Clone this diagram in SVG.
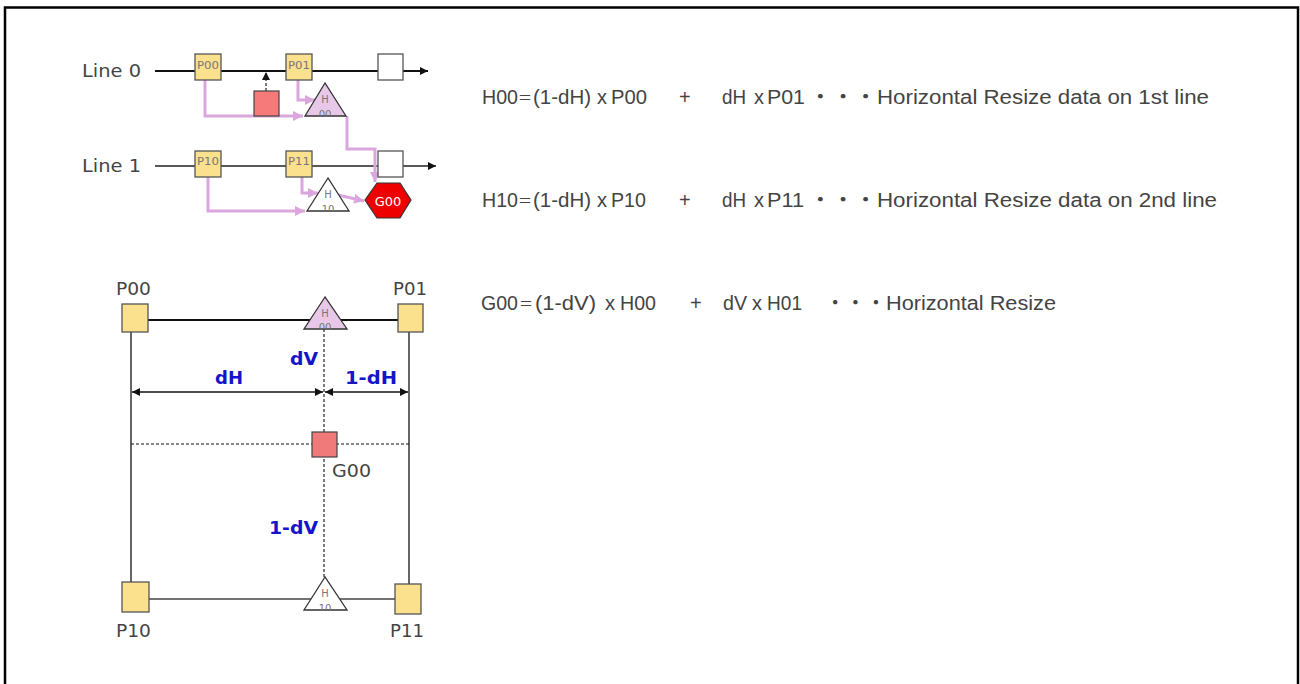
<svg xmlns="http://www.w3.org/2000/svg" width="1300" height="684" viewBox="0 0 1300 684">
<style>
.lbl{font-family:"DejaVu Sans",sans-serif;fill:#444}
.eq{font-family:"Liberation Sans","Noto Sans CJK JP",sans-serif;font-size:20px;fill:#444}
.cj{font-family:"Noto Sans CJK JP",sans-serif}
.blue{font-family:"DejaVu Sans",sans-serif;font-weight:bold;font-size:18px;fill:#1515c8}
.sm{font-family:"DejaVu Sans",sans-serif;font-size:10px;fill:#777;text-anchor:middle}
.box{fill:#fbe08e;stroke:#555;stroke-width:1.3}
.wbox{fill:#fff;stroke:#555;stroke-width:1.3}
.pink{fill:none;stroke:#dba6dd;stroke-width:3}
.dash{fill:none;stroke:#111;stroke-width:1.1;stroke-dasharray:3,2}
</style>
<defs>
<marker id="ab" viewBox="0 0 10 10" refX="10" refY="5" markerWidth="10" markerHeight="8" markerUnits="userSpaceOnUse" orient="auto"><path d="M0,0 L10,5 L0,10 z" fill="#111"/></marker>
<marker id="ap" viewBox="0 0 10 10" refX="10" refY="5" markerWidth="10" markerHeight="10" markerUnits="userSpaceOnUse" orient="auto"><path d="M0,0 L10,5 L0,10 z" fill="#dba6dd"/></marker>
<marker id="ad" viewBox="0 0 10 10" refX="10" refY="5" markerWidth="9" markerHeight="8" markerUnits="userSpaceOnUse" orient="auto-start-reverse"><path d="M0,0 L10,5 L0,10 z" fill="#111"/></marker>
<clipPath id="c1"><polygon points="325,83 305,116 346,116"/></clipPath>
<clipPath id="c2"><polygon points="328,178 307,211 349,211"/></clipPath>
<clipPath id="c3"><polygon points="325,297 304,329 347,329"/></clipPath>
<clipPath id="c4"><polygon points="325,577 304,610 347,610"/></clipPath>
</defs>
<rect x="5" y="7.5" width="1293" height="700" fill="#fff" stroke="#000" stroke-width="2.5"/>

<g id="connectors">
<line x1="155" y1="71" x2="428" y2="71" stroke="#111" stroke-width="2" marker-end="url(#ab)"/>
<line x1="155" y1="166" x2="436" y2="166" stroke="#222" stroke-width="1.5" marker-end="url(#ab)"/>
<line x1="266" y1="91" x2="266" y2="72" class="dash" stroke-width="1.3" marker-end="url(#ab)"/>
<path class="pink" d="M205,80 V116 H303" marker-end="url(#ap)"/>
<path class="pink" d="M298,80 V100 H315" marker-end="url(#ap)"/>
<path class="pink" d="M347,116 V149 H375 V182" marker-end="url(#ap)"/>
<path class="pink" d="M208,177 V211 H305" marker-end="url(#ap)"/>
<path class="pink" d="M302,177 V193 H318" marker-end="url(#ap)"/>
<path class="pink" d="M338,195 L364,201" marker-end="url(#ap)"/>
<line x1="131" y1="320" x2="409" y2="320" stroke="#111" stroke-width="2"/>
<line x1="131" y1="320" x2="131" y2="582" stroke="#333" stroke-width="1.5"/>
<line x1="409" y1="320" x2="409" y2="585" stroke="#333" stroke-width="1.5"/>
<line x1="148" y1="599" x2="396" y2="599" stroke="#444" stroke-width="1.5"/>
<line x1="324" y1="329" x2="324" y2="578" class="dash"/>
<line x1="131" y1="444" x2="409" y2="444" class="dash"/>
<line x1="132" y1="392" x2="323" y2="392" stroke="#111" stroke-width="1.5" marker-start="url(#ad)" marker-end="url(#ad)"/>
<line x1="325" y1="392" x2="408" y2="392" stroke="#111" stroke-width="1.5" marker-start="url(#ad)" marker-end="url(#ad)"/>
</g>

<text class="lbl" x="82" y="77" font-size="18" textLength="59" lengthAdjust="spacingAndGlyphs">Line 0</text>
<text class="lbl" x="82" y="172" font-size="18" textLength="59" lengthAdjust="spacingAndGlyphs">Line 1</text>

<g id="P00a"><rect class="box" x="195" y="54" width="26" height="26"/><text class="sm" x="208" y="68.5" textLength="22" lengthAdjust="spacingAndGlyphs" fill="#666">P00</text></g>
<g id="P01a"><rect class="box" x="286" y="54" width="26" height="26"/><text class="sm" x="299" y="68.5" textLength="22" lengthAdjust="spacingAndGlyphs">P01</text></g>
<g id="W0"><rect class="wbox" x="378" y="54" width="25" height="26"/></g>
<g id="R0"><rect x="254" y="91" width="25" height="25" fill="#f77a7a" stroke="#444" stroke-width="1.2"/></g>
<g id="H00a"><polygon points="325,83 305,116 346,116" fill="#e8c8e8" stroke="#333" stroke-width="1.3"/><g clip-path="url(#c1)"><text class="sm" x="325" y="103">H</text><text class="sm" x="325" y="118">00</text></g></g>

<g id="P10a"><rect class="box" x="195" y="151" width="26" height="26"/><text class="sm" x="208" y="165" textLength="22" lengthAdjust="spacingAndGlyphs">P10</text></g>
<g id="P11a"><rect class="box" x="286" y="151" width="26" height="26"/><text class="sm" x="299" y="165" textLength="22" lengthAdjust="spacingAndGlyphs">P11</text></g>
<g id="W1"><rect class="wbox" x="378" y="151" width="25" height="26"/></g>
<g id="H10a"><polygon points="328,178 307,211 349,211" fill="#fff" stroke="#333" stroke-width="1.3"/><g clip-path="url(#c2)"><text class="sm" x="328" y="198">H</text><text class="sm" x="328" y="213">10</text></g></g>
<g id="G00a"><polygon points="365,200 377,183 400,183 411,200 400,218 377,218" fill="#ee0000" stroke="#333" stroke-width="1.2"/><text x="388" y="205.5" font-family="DejaVu Sans,sans-serif" font-size="13" fill="#fff" text-anchor="middle">G00</text></g>

<g id="eq1" class="eq">
<text x="482" y="104" textLength="36" lengthAdjust="spacingAndGlyphs">H00</text>
<text class="cj" x="518" y="103" font-size="15" textLength="14" lengthAdjust="spacingAndGlyphs">＝</text>
<text x="533" y="104" textLength="58" lengthAdjust="spacingAndGlyphs">(1-dH)</text>
<text x="597" y="104">x</text>
<text x="611" y="104" textLength="36" lengthAdjust="spacingAndGlyphs">P00</text>
<text x="679" y="104">+</text>
<text x="722" y="104" textLength="24" lengthAdjust="spacingAndGlyphs">dH</text>
<text x="754" y="104">x</text>
<text x="767" y="104" textLength="38" lengthAdjust="spacingAndGlyphs">P01</text>
<text class="cj" x="809" y="104" textLength="68" lengthAdjust="spacingAndGlyphs">・・・</text>
<text x="877" y="104" textLength="332" lengthAdjust="spacingAndGlyphs">Horizontal Resize data on 1st line</text>
</g>
<g id="eq2" class="eq">
<text x="482" y="207" textLength="36" lengthAdjust="spacingAndGlyphs">H10</text>
<text class="cj" x="518" y="206" font-size="15" textLength="14" lengthAdjust="spacingAndGlyphs">＝</text>
<text x="533" y="207" textLength="58" lengthAdjust="spacingAndGlyphs">(1-dH)</text>
<text x="597" y="207">x</text>
<text x="611" y="207" textLength="35" lengthAdjust="spacingAndGlyphs">P10</text>
<text x="679" y="207">+</text>
<text x="722" y="207" textLength="24" lengthAdjust="spacingAndGlyphs">dH</text>
<text x="754" y="207">x</text>
<text x="767" y="207" textLength="37" lengthAdjust="spacingAndGlyphs">P11</text>
<text class="cj" x="809" y="207" textLength="68" lengthAdjust="spacingAndGlyphs">・・・</text>
<text x="877" y="207" textLength="340" lengthAdjust="spacingAndGlyphs">Horizontal Resize data on 2nd line</text>
</g>
<g id="eq3" class="eq">
<text x="481" y="310" textLength="37" lengthAdjust="spacingAndGlyphs">G00</text>
<text class="cj" x="519" y="309" font-size="15" textLength="14" lengthAdjust="spacingAndGlyphs">＝</text>
<text x="535" y="310" textLength="61" lengthAdjust="spacingAndGlyphs">(1-dV)</text>
<text x="605" y="310">x</text>
<text x="620" y="310" textLength="36" lengthAdjust="spacingAndGlyphs">H00</text>
<text x="690" y="310">+</text>
<text x="723" y="310" textLength="24" lengthAdjust="spacingAndGlyphs">dV</text>
<text x="752" y="310">x</text>
<text x="767" y="310" textLength="35" lengthAdjust="spacingAndGlyphs">H01</text>
<text class="cj" x="825" y="310" textLength="61" lengthAdjust="spacingAndGlyphs">・・・</text>
<text x="886" y="310" textLength="170" lengthAdjust="spacingAndGlyphs">Horizontal Resize</text>
</g>

<g id="P00b"><rect class="box" x="122" y="304" width="26" height="28"/><text class="lbl" x="116" y="295" font-size="18" textLength="35" lengthAdjust="spacingAndGlyphs">P00</text></g>
<g id="P01b"><rect class="box" x="398" y="304" width="25" height="28"/><text class="lbl" x="393" y="295" font-size="18" textLength="34" lengthAdjust="spacingAndGlyphs">P01</text></g>
<g id="P10b"><rect class="box" x="122" y="582" width="27" height="30"/><text class="lbl" x="116" y="637" font-size="18" textLength="35" lengthAdjust="spacingAndGlyphs">P10</text></g>
<g id="P11b"><rect class="box" x="395" y="584" width="26" height="30"/><text class="lbl" x="390" y="637" font-size="18" textLength="34" lengthAdjust="spacingAndGlyphs">P11</text></g>
<g id="H00b"><polygon points="325,297 304,329 347,329" fill="#e8c8e8" stroke="#333" stroke-width="1.3"/><g clip-path="url(#c3)"><text class="sm" x="325" y="317">H</text><text class="sm" x="325" y="331">00</text></g></g>
<g id="H10b"><polygon points="325,577 304,610 347,610" fill="#fff" stroke="#333" stroke-width="1.3"/><g clip-path="url(#c4)"><text class="sm" x="325" y="597">H</text><text class="sm" x="325" y="612">10</text></g></g>
<g id="G00b"><rect x="312" y="432" width="25" height="25" fill="#f07a7a" stroke="#444" stroke-width="1.2"/><text class="lbl" x="332" y="477" font-size="18" textLength="39" lengthAdjust="spacingAndGlyphs">G00</text></g>

<text class="blue" x="290" y="365" textLength="28" lengthAdjust="spacingAndGlyphs">dV</text>
<text class="blue" x="215" y="384" textLength="28" lengthAdjust="spacingAndGlyphs">dH</text>
<text class="blue" x="345" y="384" textLength="52" lengthAdjust="spacingAndGlyphs">1-dH</text>
<text class="blue" x="269" y="534" textLength="49" lengthAdjust="spacingAndGlyphs">1-dV</text>
</svg>
